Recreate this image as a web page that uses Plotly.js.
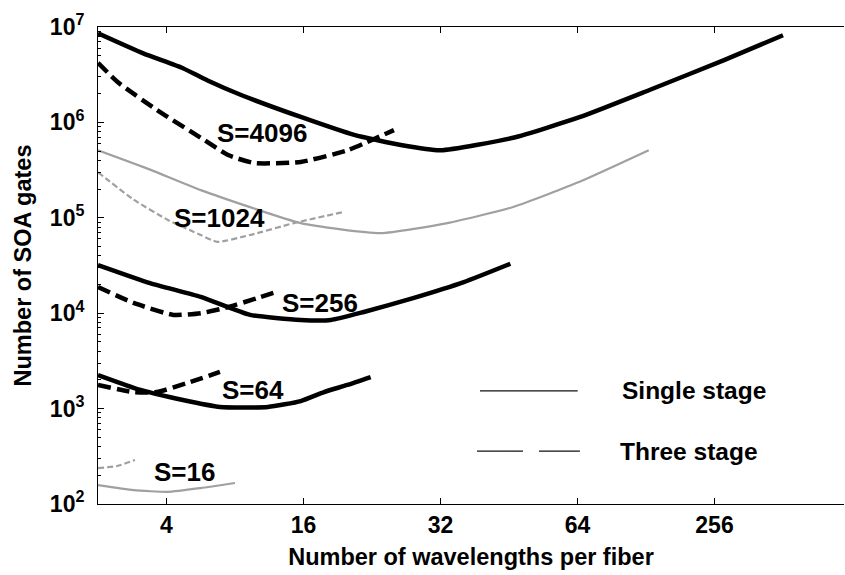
<!DOCTYPE html>
<html>
<head>
<meta charset="utf-8">
<script src="https://cdn.plot.ly/plotly-3.0.1.min.js"></script>
<style>html,body{margin:0;padding:0;background:#fff;}#chart{width:845px;height:575px;}</style>
</head>
<body>
<div id="chart"></div>
<script>
// x positions are in axis-slot units: slot 1 = "4", 2 = "16", 3 = "32", 4 = "64", 5 = "256"
const xTickVals = [1, 2, 3, 4, 5];
const xTickText = ['4', '16', '32', '64', '256'];
const yTickVals = [1e2, 1e3, 1e4, 1e5, 1e6, 1e7];
const yTickText = ['10<sup>2</sup>', '10<sup>3</sup>', '10<sup>4</sup>', '10<sup>5</sup>', '10<sup>6</sup>', '10<sup>7</sup>'];

const s4096SingleX = [0.5, 0.83, 1.12, 1.30, 1.54, 1.98, 2.37, 2.71, 3.0, 3.53, 4.02, 4.53, 5.07, 5.5];
const s4096SingleY = [8.6e6, 5.3e6, 3.7e6, 2.75e6, 1.95e6, 1.14e6, 7.4e5, 5.8e5, 5.1e5, 6.9e5, 1.14e6, 2.2e6, 4.5e6, 8.2e6];
const s4096ThreeX = [0.5, 0.65, 0.93, 1.25, 1.45, 1.64, 1.98, 2.32, 2.66];
const s4096ThreeY = [4.2e6, 2.6e6, 1.35e6, 6.9e5, 4.55e5, 3.75e5, 3.85e5, 5.1e5, 8.3e5];

const s1024SingleX = [0.5, 0.88, 1.25, 1.98, 2.56, 3.05, 3.53, 4.02, 4.52];
const s1024SingleY = [5.1e5, 3.2e5, 1.95e5, 8.8e4, 6.9e4, 8.8e4, 1.3e5, 2.4e5, 5.1e5];
const s1024ThreeX = [0.5, 0.76, 1.01, 1.25, 1.37, 1.61, 1.93, 2.29];
const s1024ThreeY = [3.0e5, 1.55e5, 9.5e4, 6.6e4, 5.6e4, 6.6e4, 8.8e4, 1.15e5];

const s256SingleX = [0.5, 0.88, 1.25, 1.61, 1.98, 2.2, 2.44, 2.8, 3.17, 3.51];
const s256SingleY = [3.2e4, 2.07e4, 1.48e4, 9.6e3, 8.5e3, 8.5e3, 1.03e4, 1.44e4, 2.12e4, 3.3e4];
const s256ThreeX = [0.5, 0.76, 1.05, 1.25, 1.45, 1.78];
const s256ThreeY = [1.88e4, 1.28e4, 9.6e3, 1.0e4, 1.16e4, 1.63e4];

const s64SingleX = [0.5, 0.81, 1.12, 1.39, 1.74, 1.98, 2.15, 2.32, 2.49];
const s64SingleY = [2.25e3, 1.57e3, 1.23e3, 1.04e3, 1.04e3, 1.2e3, 1.49e3, 1.77e3, 2.14e3];
const s64ThreeX = [0.5, 0.76, 0.93, 1.15, 1.39];
const s64ThreeY = [1.77e3, 1.49e3, 1.49e3, 1.85e3, 2.42e3];

const s16SingleX = [0.5, 0.76, 1.01, 1.25, 1.5];
const s16SingleY = [158, 140, 134, 147, 166];
const s16ThreeX = [0.5, 0.64, 0.77];
const s16ThreeY = [238, 250, 289];

const labelText = ['S=4096', 'S=1024', 'S=256', 'S=64', 'S=16'];
const labelX = [1.70, 1.39, 2.12, 1.63, 1.13];
const labelY = [7.75e5, 1.0e5, 1.28e4, 1.57e3, 216];

const legendNames = ['Single stage', 'Three stage'];

const BLACK = '#000000';
const GRAY = '#a0a0a0';
const FONT = 'Liberation Sans, Arial, sans-serif';
const W = 'bold';

// minor tick positions of the log axis (2..9 within each decade)
const minorVals = [];
for (let d = 2; d < 7; d++) for (let k = 2; k <= 9; k++) minorVals.push(k * Math.pow(10, d));

function tr(x, y, color, width, dash) {
  return {x: x, y: y, type: 'scatter', mode: 'lines', showlegend: false, hoverinfo: 'skip',
          line: {color: color, width: width, dash: dash, shape: 'spline', smoothing: 0.5}};
}

const data = [
  tr(s4096SingleX, s4096SingleY, BLACK, 4.5, 'solid'),
  tr(s4096ThreeX, s4096ThreeY, BLACK, 4.5, '13px,6px'),
  tr(s1024SingleX, s1024SingleY, GRAY, 2.2, 'solid'),
  tr(s1024ThreeX, s1024ThreeY, GRAY, 2.2, '6px,3px'),
  tr(s256SingleX, s256SingleY, BLACK, 4.5, 'solid'),
  tr(s256ThreeX, s256ThreeY, BLACK, 4.5, '13px,6px'),
  tr(s64SingleX, s64SingleY, BLACK, 4.5, 'solid'),
  tr(s64ThreeX, s64ThreeY, BLACK, 4.5, '13px,6px'),
  tr(s16SingleX, s16SingleY, GRAY, 2.2, 'solid'),
  tr(s16ThreeX, s16ThreeY, GRAY, 2.2, '6px,3px')
];

const annotations = labelText.map((t, i) => ({
  x: labelX[i], y: Math.log10(labelY[i]), xref: 'x', yref: 'y', text: t, showarrow: false,
  font: {family: FONT, size: 26, color: '#000', weight: W}, xanchor: 'center', yanchor: 'middle'
}));
annotations.push({x: 0.700, y: 0.237, xref: 'paper', yref: 'paper', text: legendNames[0], showarrow: false,
  xanchor: 'left', yanchor: 'middle', font: {family: FONT, size: 24.5, color: '#000', weight: W}});
annotations.push({x: 0.697, y: 0.111, xref: 'paper', yref: 'paper', text: legendNames[1], showarrow: false,
  xanchor: 'left', yanchor: 'middle', font: {family: FONT, size: 24.5, color: '#000', weight: W}});

const shapes = [
  {type: 'line', xref: 'paper', yref: 'paper', x0: 0.512, x1: 0.643, y0: 0.237, y1: 0.237,
   line: {color: '#111', width: 1.2}},
  {type: 'line', xref: 'paper', yref: 'paper', x0: 0.508, x1: 0.646, y0: 0.111, y1: 0.111,
   line: {color: '#111', width: 1.2, dash: '46px,16px'}}
];

const layout = {
  width: 845, height: 575,
  margin: {l: 98, r: 1, t: 27, b: 71},
  paper_bgcolor: '#fff', plot_bgcolor: '#fff',
  font: {family: FONT, color: '#000'},
  xaxis: {
    range: [0.5, 0.5 + 746 / 137], tickmode: 'array', tickvals: xTickVals, ticktext: xTickText,
    ticks: 'inside', ticklen: 6, tickcolor: '#000', showline: true, linecolor: '#000', linewidth: 1,
    mirror: 'ticks', showgrid: false, zeroline: false,
    tickfont: {family: FONT, size: 23, color: '#000', weight: W},
    title: {text: 'Number of wavelengths per fiber', font: {family: FONT, size: 23.5, color: '#000', weight: W}, standoff: 11}
  },
  yaxis: {
    type: 'log', range: [2, 7], tickmode: 'array', tickvals: yTickVals, ticktext: yTickText,
    ticks: 'inside', ticklen: 6, tickcolor: '#000', showline: true, linecolor: '#000', linewidth: 1,
    showgrid: false, zeroline: false, ticklabelstandoff: 8,
    minor: {tickmode: 'array', tickvals: minorVals, ticks: 'inside', ticklen: 3, tickcolor: '#000', showgrid: false},
    tickfont: {family: FONT, size: 23, color: '#000', weight: W},
    title: {text: 'Number of SOA gates', font: {family: FONT, size: 23.5, color: '#000', weight: W}, standoff: 11}
  },
  annotations: annotations,
  shapes: shapes,
  showlegend: false
};

Plotly.newPlot('chart', data, layout, {staticPlot: true, displayModeBar: false});
</script>
</body>
</html>
